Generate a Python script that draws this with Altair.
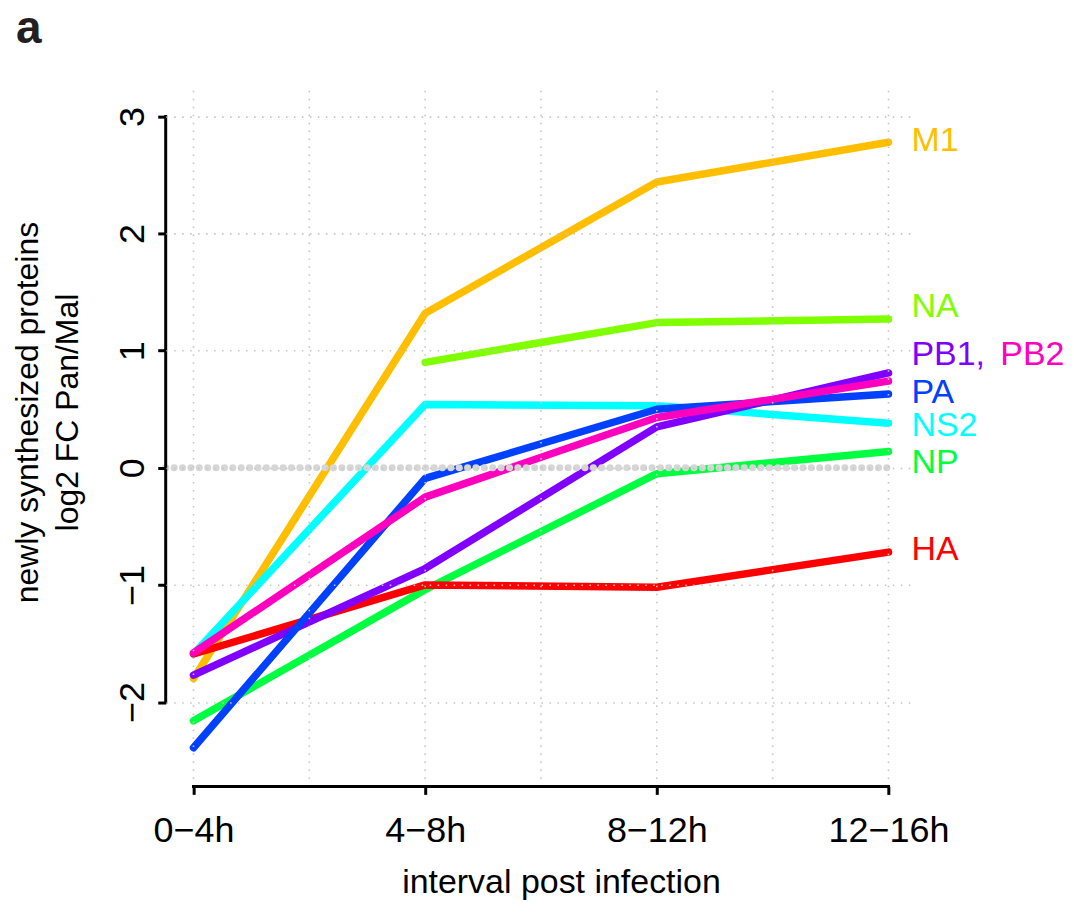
import altair as alt
import pandas as pd

FONT = "Liberation Sans, Arial, Helvetica, sans-serif"

intervals = ["0−4h", "4−8h", "8−12h", "12−16h"]
x_index = [0, 1, 2, 3]

# drawing order (first drawn is at the bottom)
proteins = ["M1", "NA", "NS2", "NP", "HA", "PB1", "PA", "PB2"]
colors = {
    "HA": "#FF0000",
    "M1": "#FFBF00",
    "NA": "#80FF00",
    "NP": "#00FF40",
    "NS2": "#00FFFF",
    "PA": "#0040FF",
    "PB1": "#8000FF",
    "PB2": "#FF00BF",
}

m1 = [-1.80, 1.32, 2.44, 2.78]
na = [None, 0.90, 1.24, 1.27]
ns2 = [-1.59, 0.54, 0.53, 0.38]
np_ = [-2.16, -1.04, -0.05, 0.14]
ha = [-1.59, -1.00, -1.02, -0.72]
pb1 = [-1.77, -0.86, 0.35, 0.81]
pa = [-2.39, -0.09, 0.50, 0.63]
pb2 = [-1.58, -0.25, 0.43, 0.74]
series = {"M1": m1, "NA": na, "NS2": ns2, "NP": np_, "HA": ha,
          "PB1": pb1, "PA": pa, "PB2": pb2}

label_text = ["M1", "NA", "PB1,", "PA", "NS2", "NP", "HA"]
label_y = [2.79, 1.37, 0.96, 0.64, 0.36, 0.04, -0.70]
label_color = ["#FFBF00", "#80FF00", "#8000FF", "#0040FF", "#00FFFF", "#00FF40", "#FF0000"]

y_ticks = [-2, -1, 0, 1, 2, 3]
x_grid = [0, 0.5, 1, 1.5, 2, 2.5, 3]

XDOM = [-0.12, 3.12]
YDOM = [-2.72, 3.22]
W, H = 752, 697

xscale = alt.Scale(domain=XDOM, nice=False, zero=False)
yscale = alt.Scale(domain=YDOM, nice=False, zero=False)

label_expr = "[" + ",".join("'%s'" % s for s in intervals) + "][datum.value]"

xaxis = alt.Axis(
    values=x_index, labelExpr=label_expr, domain=False, grid=False,
    ticks=True, tickSize=8, tickWidth=3, tickColor="black",
    labelFont=FONT, labelFontSize=36, labelColor="black", labelPadding=19,
    labelFlush=False, labelOverlap=False,
    title="interval post infection", titleFont=FONT, titleFontSize=34,
    titleFontWeight="normal", titleColor="black", titleX=396, titleY=106,
    titleBaseline="alphabetic",
)
yaxis = alt.Axis(
    values=y_ticks, format="d", domain=False, grid=True,
    gridDash=[1.5, 6.5], gridColor="#c4c4c4", gridWidth=1.6,
    ticks=True, tickSize=8, tickWidth=3, tickColor="black",
    labelFont=FONT, labelFontSize=36, labelColor="black", labelPadding=14,
    labelAngle=270, labelAlign="center", labelBaseline="alphabetic",
    labelFlush=False, labelOverlap=False,
    title=["newly synthesized proteins", "log2 FC Pan/Mal"], titleFont=FONT,
    titleFontSize=32, titleFontWeight="normal", titleColor="black",
    titleAngle=270, titleX=-128, titleY=322, titleBaseline="alphabetic",
    titleLineHeight=40, zindex=1,
)

X = lambda f="x": alt.X(f"{f}:Q", scale=xscale, axis=xaxis)
Y = lambda f="y": alt.Y(f"{f}:Q", scale=yscale, axis=yaxis)

layers = []
for p in proteins:
    d = pd.DataFrame({"x": x_index, "y": series[p], "protein": p})
    layers.append(
        alt.Chart(d).mark_line(color=colors[p], strokeWidth=7.5,
                               strokeCap="round", strokeJoin="round")
        .encode(x=X(), y=Y())
    )

# zero reference line (big grey dots)
zero = pd.DataFrame({"x": [XDOM[0]], "x2": [3], "y": [0]})
layers.append(
    alt.Chart(zero).mark_rule(color="#d6d6d6", strokeWidth=7,
                              strokeDash=[0.1, 8.3], strokeCap="round")
    .encode(x=X(), x2="x2", y=Y())
)

# vertical dotted grid
grid = pd.DataFrame({"x": x_grid})
layers.append(
    alt.Chart(grid).mark_rule(color="#c4c4c4", strokeWidth=1.6,
                              strokeDash=[1.5, 6.5])
    .encode(x=X())
)

# R-style axis lines
yline = pd.DataFrame({"x": [XDOM[0]], "y": [min(y_ticks)], "y2": [max(y_ticks)]})
xline = pd.DataFrame({"x": [x_index[0]], "x2": [x_index[-1]], "y": [YDOM[0]]})
layers.append(
    alt.Chart(yline).mark_rule(color="black", strokeWidth=3, strokeCap="square")
    .encode(x=X(), y=Y(), y2="y2")
)
layers.append(
    alt.Chart(xline).mark_rule(color="black", strokeWidth=3, strokeCap="square")
    .encode(x=X(), x2="x2", y=Y())
)

# right-hand labels
lab = pd.DataFrame({"x": [3] * len(label_text), "y": label_y,
                    "t": label_text, "c": label_color})
layers.append(
    alt.Chart(lab).mark_text(align="left", baseline="middle", dx=23,
                             font=FONT, fontSize=34)
    .encode(x=X(), y=Y(), text="t:N", color=alt.Color("c:N", scale=None))
)
lab2 = pd.DataFrame({"x": [3], "y": [label_y[2]], "t": ["PB2"]})
layers.append(
    alt.Chart(lab2).mark_text(align="left", baseline="middle", dx=112,
                              font=FONT, fontSize=34, color="#FF00BF")
    .encode(x=X(), y=Y(), text="t:N")
)

# panel letter
panel = pd.DataFrame({"t": ["a"]})
layers.append(
    alt.Chart(panel).mark_text(align="left", baseline="alphabetic",
                               font=FONT, fontSize=46, fontWeight="bold",
                               color="#231f20")
    .encode(x=alt.value(-150), y=alt.value(-48), text="t:N")
)

chart = alt.layer(*layers).properties(
    width=W, height=H,
    background="white",
    autosize=alt.AutoSizeParams(type="none"),
    padding={"left": 158, "top": 82, "right": 150, "bottom": 120},
).configure_view(stroke="transparent", strokeWidth=0)

chart.save("out.html", embed_options={"renderer": "svg", "actions": False})
